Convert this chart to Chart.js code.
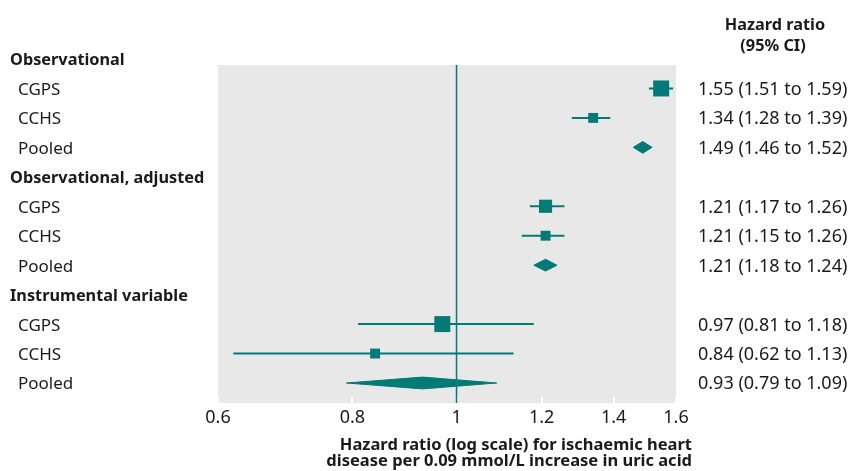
<!DOCTYPE html>
<html><head><meta charset="utf-8">
<script src="https://cdn.jsdelivr.net/npm/chart.js@4.4.1/dist/chart.umd.min.js"></script>
<style>html,body{margin:0;padding:0;background:#fff}#wrap{width:853px;height:471px;position:relative}canvas{display:block}</style>
</head><body><div id="wrap"><canvas id="c" width="853" height="471"></canvas></div>
<script>
// ---- data ----
const rowLabels = ['Observational','CGPS','CCHS','Pooled','Observational, adjusted','CGPS','CCHS','Pooled','Instrumental variable','CGPS','CCHS','Pooled'];
const rowKinds  = ['header','study','study','pooled','header','study','study','pooled','header','study','study','pooled'];
const estimates = [null,1.55,1.34,1.49,null,1.21,1.21,1.21,null,0.97,0.84,0.93];
const lowerCI   = [null,1.51,1.28,1.46,null,1.17,1.15,1.18,null,0.81,0.62,0.79];
const upperCI   = [null,1.59,1.39,1.52,null,1.26,1.26,1.24,null,1.18,1.13,1.09];
const studyWeights = [null,1,0.62,null,null,0.82,0.62,null,null,1,0.62,null];
const xTicks = [0.6,0.8,1,1.2,1.4,1.6];
const refValue = 1;
const columnHeader = ['Hazard ratio','(95% CI)'];
const axisTitle = ['Hazard ratio (log scale) for ischaemic heart','disease per 0.09 mmol/L increase in uric acid'];

// ---- style ----
const TEAL = '#027b76';
const GREY = '#e8e8e8';
const INK = '#1a1a1a';
const FONT = '"Noto Sans", sans-serif';
const Y_MIN = 0.204, Y_MAX = 11.679;
const MAX_RADIUS = 11.3;
const DIAMOND_HALF = 0.2;

const fmt = v => v.toFixed(2);

const ciData = [];
const squareData = [];
const squareRadius = [];
const diamondSets = [];
rowKinds.forEach((k, i) => {
  if (k === 'study') {
    ciData.push({x: lowerCI[i], y: i}, {x: upperCI[i], y: i}, {x: upperCI[i], y: null});
    squareData.push({x: estimates[i], y: i});
    squareRadius.push(MAX_RADIUS * studyWeights[i]);
  } else if (k === 'pooled') {
    diamondSets.push({
      type: 'line',
      data: [
        {x: lowerCI[i], y: i},
        {x: estimates[i], y: i - DIAMOND_HALF},
        {x: upperCI[i], y: i},
        {x: estimates[i], y: i + DIAMOND_HALF},
        {x: lowerCI[i], y: i}
      ],
      borderColor: TEAL, backgroundColor: TEAL, borderWidth: 1,
      fill: 'shape', pointRadius: 0, tension: 0, order: 1
    });
  }
});

const decor = {
  id: 'decor',
  beforeDatasetsDraw(chart) {
    const {ctx, chartArea: a, scales: {x}} = chart;
    ctx.save();
    ctx.fillStyle = GREY;
    ctx.fillRect(a.left, a.top, a.right - a.left, a.bottom - a.top);
    ctx.strokeStyle = '#ffffff';
    ctx.lineWidth = 2;
    xTicks.forEach(v => {
      const px = Math.round(x.getPixelForValue(v));
      ctx.beginPath(); ctx.moveTo(px, a.bottom - 6); ctx.lineTo(px, a.bottom); ctx.stroke();
    });
    ctx.restore();
  },
  afterDraw(chart) {
    const {ctx, chartArea: a, scales: {y}} = chart;
    ctx.save();
    ctx.fillStyle = INK;
    ctx.textBaseline = 'alphabetic';
    rowLabels.forEach((lab, i) => {
      const py = y.getPixelForValue(i);
      if (rowKinds[i] === 'header') {
        ctx.font = 'bold 16.3px ' + FONT; ctx.textAlign = 'left';
        ctx.fillText(lab, 10, py + 6);
      } else {
        ctx.font = '17px ' + FONT; ctx.textAlign = 'left';
        ctx.fillText(lab, 18, py + 6.5);
        ctx.font = '18px ' + FONT;
        ctx.fillText(fmt(estimates[i]) + ' (' + fmt(lowerCI[i]) + ' to ' + fmt(upperCI[i]) + ')', 698, py + 6.5);
      }
    });
    ctx.font = 'bold 16.3px ' + FONT; ctx.textAlign = 'center';
    ctx.fillText(columnHeader[0], 775, 30);
    ctx.fillText(columnHeader[1], 773, 51);
    ctx.font = 'bold 16.5px ' + FONT;
    ctx.textAlign = 'right';
    ctx.fillText(axisTitle[0], 692, 450);
    ctx.fillText(axisTitle[1], 692, 466);
    ctx.restore();
  }
};

new Chart(document.getElementById('c'), {
  type: 'scatter',
  data: {
    datasets: [
      {type: 'line', data: [{x: refValue, y: Y_MIN}, {x: refValue, y: Y_MAX}], borderColor: TEAL, borderWidth: 1.5, pointRadius: 0, order: 3},
      {type: 'line', data: ciData, borderColor: TEAL, borderWidth: 2, pointRadius: 0, spanGaps: false, order: 2},
      {type: 'scatter', data: squareData, pointStyle: 'rect', pointRadius: squareRadius, backgroundColor: TEAL, borderWidth: 0, order: 0},
      ...diamondSets
    ]
  },
  options: {
    responsive: false,
    animation: false,
    events: [],
    layout: {padding: {left: 218, right: 177, top: 65, bottom: 0}},
    plugins: {legend: {display: false}, tooltip: {enabled: false}},
    scales: {
      x: {
        type: 'logarithmic', min: 0.6, max: 1.6,
        afterBuildTicks: s => { s.ticks = xTicks.map(v => ({value: v})); },
        afterFit: s => { s.height = 68; },
        grid: {display: false, drawTicks: false},
        border: {display: false},
        ticks: {autoSkip: false, maxRotation: 0, padding: 4, color: INK, font: {family: FONT, size: 18},
                callback: v => String(v)}
      },
      y: {type: 'linear', reverse: true, min: Y_MIN, max: Y_MAX, display: false}
    }
  },
  plugins: [decor]
});
</script>
</body></html>
